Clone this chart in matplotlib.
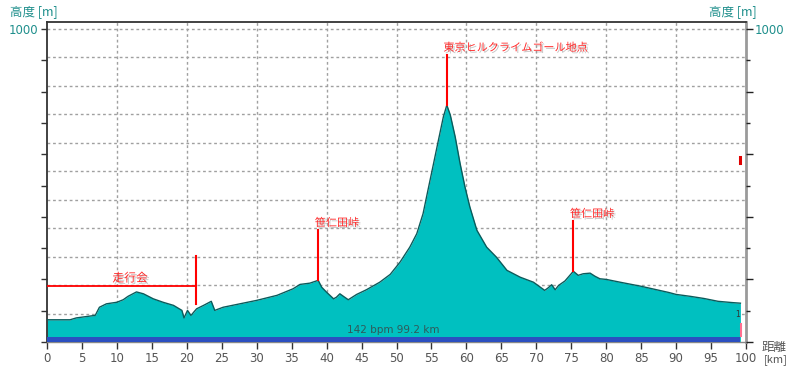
import matplotlib
matplotlib.use('Agg')
import matplotlib.pyplot as plt
import matplotlib.patheffects as pe

# elevation profile (km, m)
dist = [0, 3.3, 4.2, 6.2, 6.9, 7.5, 8.5, 10.0, 10.9, 11.6, 12.8, 13.8, 15.2, 16.6, 18.1,
        19.3, 19.6, 20.1, 20.6, 21.4, 22.4, 23.5, 24.0, 25.2, 27.6, 30.0, 32.9, 35.2, 36.2,
        37.6, 38.8, 39.3, 40.0, 41.0, 41.4, 41.9, 42.4, 43.1, 44.3, 45.7, 47.6, 49.1, 50.5,
        51.9, 52.9, 53.8, 54.5, 55.3, 56.0, 56.7, 57.2, 57.7, 58.4, 59.1, 59.8, 60.5, 61.5,
        62.9, 64.3, 65.8, 67.7, 69.6, 71.2, 71.7, 72.2, 72.7, 73.2, 74.1, 75.3, 76.0, 76.7,
        77.7, 78.4, 79.1, 80, 82, 85, 87, 89, 90, 92, 94, 96, 98, 99.2]
alt = [71, 71, 77, 83, 85, 111, 122, 127, 135, 146, 160, 154, 138, 127, 117,
       101, 77, 101, 85, 106, 117, 130, 101, 111, 122, 133, 149, 170, 184,
       188, 197, 175, 159, 138, 143, 154, 146, 135, 152, 167, 191, 216, 255,
       303, 346, 410, 485, 570, 645, 719, 757, 725, 655, 570, 495, 431, 357,
       303, 271, 229, 207, 191, 165, 173, 183, 167, 181, 195, 226, 213, 218,
       220, 210, 202, 200, 191, 178, 168, 158, 152, 146, 139, 130, 126, 124]

# point labels: km, altitude of profile, top of marker line, text
point_km = [38.8, 57.2, 75.3]
point_alt = [197, 757, 226]
point_top = [357, 917, 386]
point_text = ['笹仁田峠', '東京ヒルクライムゴール地点', '笹仁田峠']

# section label (走行会)
section_text = '走行会'
section_start = 0
section_end = 21.36
section_alt = 179
section_mark_low = 120
section_mark_high = 275

# summary bar
avg_hr = '142 bpm'
total_km = 99.2
summary_text = avg_hr + ' ' + str(total_km) + ' km'

teal_text = '#1f8f8c'
jp_font = ['Noto Sans CJK JP', 'DejaVu Sans']

fig = plt.figure(figsize=(8, 3.68), dpi=100)
ax = fig.add_axes([47/800, 26/368, 699/800, 320/368])
ax.set_xlim(0, 100)
ax.set_ylim(0, 1022.5)

# dotted grid
for k in range(1, 12):
	ax.axhline(1000*k/11, color='#a0a0a0', lw=1, ls=(0, (2, 2)), zorder=0)
for xv in range(10, 100, 10):
	ax.axvline(xv, color='#a0a0a0', lw=1, ls=(0, (2, 2)), zorder=0)

# profile
ax.fill_between(dist, 0, alt, color='#00c0c0', lw=0, zorder=2)
ax.plot(dist, alt, color='#0b5b5b', lw=1, zorder=3)

# summary bar
ax.fill_between([dist[0], dist[-1]], 0, 17, color='#2b4fc0', lw=0, zorder=4)
ax.annotate(summary_text, xy=((dist[0]+dist[-1])/2, 17), xytext=(0, 1.5),
            textcoords='offset points', ha='center', va='bottom',
            fontsize=7.5, color='#2f5a5a', zorder=5)

shadow = [pe.SimplePatchShadow(offset=(1.2, -1.2), shadow_rgbFace='#808080', alpha=0.45),
          pe.Normal()]

# point labels
for km, a, top, txt in zip(point_km, point_alt, point_top, point_text):
	ax.plot([km, km], [a, top], color='#ff0000', lw=1.5, zorder=5)
	ax.annotate(txt, xy=(km, top), xytext=(-2.5, 1.5), textcoords='offset points',
	            ha='left', va='bottom', fontsize=8, color='#ff2a2a',
	            family=jp_font, path_effects=shadow, zorder=6)

# section label
ax.plot([section_start, section_end], [section_alt, section_alt], color='#ff0000', lw=1.3, zorder=5)
ax.plot([section_end, section_end], [section_mark_low, section_mark_high], color='#ff0000', lw=1.5, zorder=5)
ax.annotate(section_text, xy=((section_start+section_end)/2, section_alt), xytext=(6, 1),
            textcoords='offset points', ha='center', va='bottom', fontsize=8.5,
            color='#ff2a2a', family=jp_font, path_effects=shadow, zorder=6)

# small end markers
ax.plot([dist[-1], dist[-1]], [573, 592], color='#e00000', lw=2.2, zorder=6)
ax.plot([dist[-1]+0.1, dist[-1]+0.1], [19, 59], color='#ff7090', lw=1.5, zorder=5)
ax.text(dist[-1]-0.1, 87, '1', fontsize=5.5, color='#333333', ha='right', va='center', zorder=6)

# spines
ax.spines['left'].set_color('#333333')
ax.spines['left'].set_linewidth(1.3)
ax.spines['top'].set_color('#333333')
ax.spines['top'].set_linewidth(1.3)
ax.spines['right'].set_color('#9a9a9a')
ax.spines['right'].set_linewidth(2)
ax.spines['bottom'].set_color('#888888')
ax.spines['bottom'].set_linewidth(1)

# x axis
ax.set_xticks(range(0, 101, 5))
ax.tick_params(axis='x', direction='out', length=5, width=1, color='#333333',
               labelsize=8.5, labelcolor='#555555', pad=2)

# left y axis
yt = list(range(0, 1001, 100))
ax.set_yticks(yt)
ax.set_yticklabels([''] * (len(yt) - 1) + ['1000'])
ax.tick_params(axis='y', direction='out', length=4, width=1, color='#333333',
               labelsize=8.5, labelcolor=teal_text, pad=2)

# right y axis
ax2 = ax.twinx()
ax2.set_ylim(ax.get_ylim())
ax2.set_yticks(list(range(0, 1001, 200)))
ax2.set_yticklabels([''] * 5 + ['1000'])
ax2.set_yticks(list(range(100, 1000, 200)), minor=True)
ax2.tick_params(axis='y', which='major', direction='out', length=5, width=1,
                color='#222222', labelsize=8.5, labelcolor=teal_text, pad=1)
ax2.tick_params(axis='y', which='minor', direction='out', length=3, width=1, color='#222222')
for s in ax2.spines.values():
	s.set_visible(False)

# axis titles
fig.text(10/800, 1-12/368, '高度 [m]', fontsize=9, color=teal_text, family=jp_font,
         ha='left', va='center')
fig.text(757/800, 1-12/368, '高度 [m]', fontsize=9, color=teal_text, family=jp_font,
         ha='right', va='center')
fig.text(762/800, 1-347/368, '距離', fontsize=9, color='#555555', family=jp_font,
         ha='left', va='center')
fig.text(764/800, 1-360/368, '[km]', fontsize=8, color='#555555', family=jp_font,
         ha='left', va='center')

plt.savefig('out.png', dpi=100)
plt.close()
